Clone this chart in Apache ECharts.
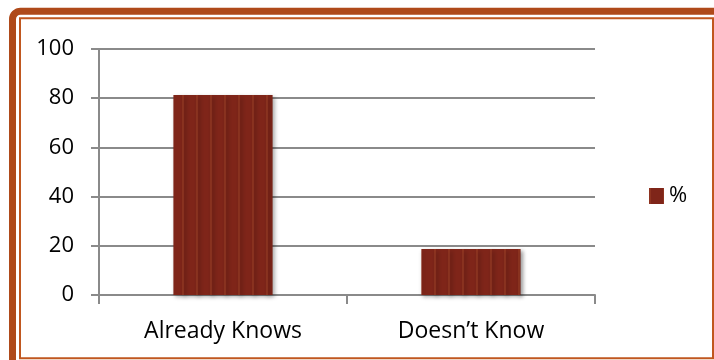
<!DOCTYPE html>
<html>
<head>
<meta charset="utf-8">
<script src="https://cdn.jsdelivr.net/npm/echarts@6/dist/echarts.min.js"></script>
<style>
  html, body { margin: 0; padding: 0; background: #fff; }
  #chart { width: 714px; height: 360px; }
</style>
</head>
<body>
<div id="chart"></div>
<script>
// ─── Data ────────────────────────────────────────
const categories = ['Already Knows', 'Doesn\u2019t Know'];
const percentValues = [81.3, 18.7];
const seriesName = '%';

const chart = echarts.init(document.getElementById('chart'));
const FONT = "'Open Sans', sans-serif";

chart.setOption({
  backgroundColor: '#ffffff',
  animation: false,
  grid: { left: 99, right: 119, top: 49, bottom: 65 },
  legend: {
    data: [seriesName],
    left: 644,
    top: 180,
    orient: 'vertical',
    itemWidth: 15,
    itemHeight: 16,
    itemGap: 6,
    icon: 'rect',
    textStyle: { fontFamily: FONT, fontSize: 22, color: '#000' }
  },
  xAxis: {
    type: 'category',
    data: categories,
    axisLine: { lineStyle: { color: '#8a8a8a', width: 2 } },
    axisTick: { show: true, length: 9, lineStyle: { color: '#8a8a8a', width: 2 } },
    axisLabel: { margin: 25, fontFamily: FONT, fontSize: 23, color: '#000' }
  },
  yAxis: {
    type: 'value',
    min: 0,
    max: 100,
    interval: 20,
    axisLine: { show: true, lineStyle: { color: '#8a8a8a', width: 2 } },
    axisTick: { show: true, length: 8, lineStyle: { color: '#8a8a8a', width: 2 } },
    axisLabel: { margin: 25, fontFamily: FONT, fontSize: 22, color: '#000' },
    splitLine: { lineStyle: { color: '#8a8a8a', width: 2 } }
  },
  series: [{
    name: seriesName,
    type: 'bar',
    data: percentValues,
    barWidth: '40%',
    itemStyle: {
      color: '#7f2519',
      shadowBlur: 4,
      shadowColor: 'rgba(0,0,0,0.3)',
      shadowOffsetX: 2,
      shadowOffsetY: 2,
      decal: {
        symbol: 'rect',
        symbolSize: 1,
        dashArrayX: [2, 12],
        dashArrayY: [4, 0],
        rotation: 0,
        color: 'rgba(180,85,50,0.3)'
      }
    }
  }],
  graphic: [
    {
      type: 'rect',
      silent: true,
      z: 100,
      shape: { x: 12.5, y: 11.2, width: 900, height: 600, r: 8 },
      style: { fill: 'none', stroke: '#af4a1a', lineWidth: 7 }
    },
    {
      type: 'rect',
      silent: true,
      z: 100,
      shape: { x: 20, y: 18.2, width: 693, height: 340 },
      style: { fill: 'none', stroke: '#c0571f', lineWidth: 2 }
    }
  ]
});
</script>
</body>
</html>
